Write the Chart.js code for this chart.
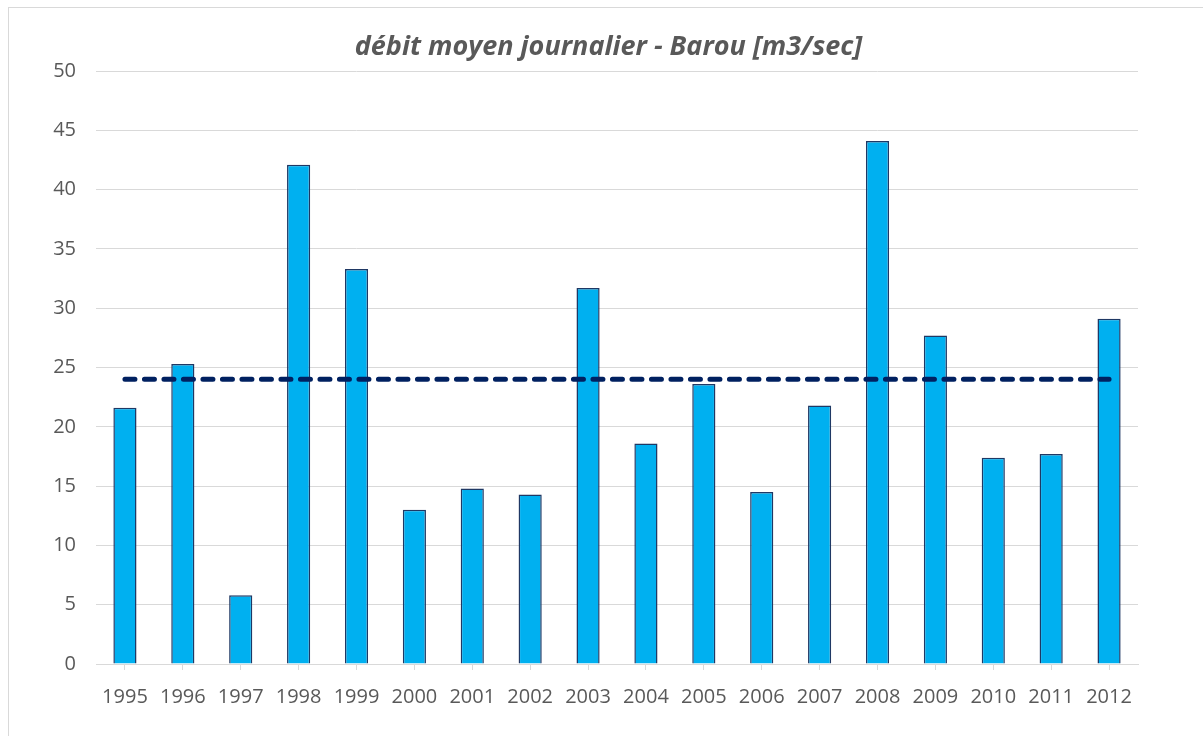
<!DOCTYPE html>
<html>
<head>
<meta charset="utf-8">
<script src="https://cdn.jsdelivr.net/npm/chart.js@4/dist/chart.umd.min.js"></script>
<style>
  html, body { margin: 0; padding: 0; background: #fff; overflow: hidden; }
  #frame { position: absolute; left: 8px; top: 7px; width: 1300px; height: 800px; border: 1px solid #d9d9d9; }
  #chart { position: absolute; left: 0; top: 0; }
</style>
</head>
<body>
<div id="frame"></div>
<canvas id="chart" width="1203" height="736"></canvas>
<script>
const annees = ["1995","1996","1997","1998","1999","2000","2001","2002","2003","2004","2005","2006","2007","2008","2009","2010","2011","2012"];
const debits = [21.6, 25.3, 5.8, 42.1, 33.3, 13.0, 14.8, 14.3, 31.7, 18.6, 23.6, 14.5, 21.8, 44.1, 27.7, 17.4, 17.7, 29.1];
const moyenne = [24.0, 24.0, 24.0, 24.0, 24.0, 24.0, 24.0, 24.0, 24.0, 24.0, 24.0, 24.0, 24.0, 24.0, 24.0, 24.0, 24.0, 24.0];
const yTicks = [0, 5, 10, 15, 20, 25, 30, 35, 40, 45, 50];

const police = "'Open Sans', 'Liberation Sans', sans-serif";
const gris = "#595959";

const ctx = document.getElementById("chart").getContext("2d");

new Chart(ctx, {
  data: {
    labels: annees,
    datasets: [
      {
        type: "line",
        label: "moyenne",
        data: moyenne,
        borderColor: "#002060",
        borderWidth: 5,
        borderDash: [10, 9.5],
        borderCapStyle: "round",
        pointRadius: 0,
        fill: false,
        order: 0
      },
      {
        type: "bar",
        label: "débit",
        data: debits,
        backgroundColor: "#00B0F0",
        borderColor: "#1F3864",
        borderWidth: 1.5,
        categoryPercentage: 1,
        barPercentage: 0.4,
        order: 1
      }
    ]
  },
  options: {
    responsive: false,
    animation: false,
    layout: { padding: { left: 14, right: 0, top: 0, bottom: 0 } },
    plugins: {
      legend: { display: false },
      tooltip: { enabled: false },
      title: {
        display: true,
        text: "débit moyen journalier - Barou [m3/sec]",
        color: gris,
        font: { family: police, size: 27, style: "italic", weight: "bold" },
        padding: { top: 31, bottom: 7.6 }
      }
    },
    scales: {
      x: {
        offset: true,
        grid: { display: true, offset: false, drawOnChartArea: false, color: "#d9d9d9", tickLength: 6 },
        border: { display: true, color: "#d9d9d9" },
        ticks: { color: gris, font: { family: police, size: 20 }, padding: 15, maxRotation: 0 },
        afterFit: s => { s.height = 72; }
      },
      y: {
        min: 0,
        max: 50,
        afterBuildTicks: s => { s.ticks = yTicks.map(v => ({ value: v })); },
        grid: { color: "#d9d9d9", drawTicks: false },
        border: { display: false },
        ticks: { color: gris, font: { family: police, size: 20 }, padding: 20 },
        afterFit: s => { s.width = 82; }
      },
      // axe vide à droite, seulement pour réserver la marge
      y2: {
        position: "right",
        min: 0,
        max: 50,
        grid: { drawOnChartArea: false, drawTicks: false, display: false },
        border: { display: false },
        ticks: { display: false },
        afterFit: s => { s.width = 65; }
      }
    }
  }
});
</script>
</body>
</html>
